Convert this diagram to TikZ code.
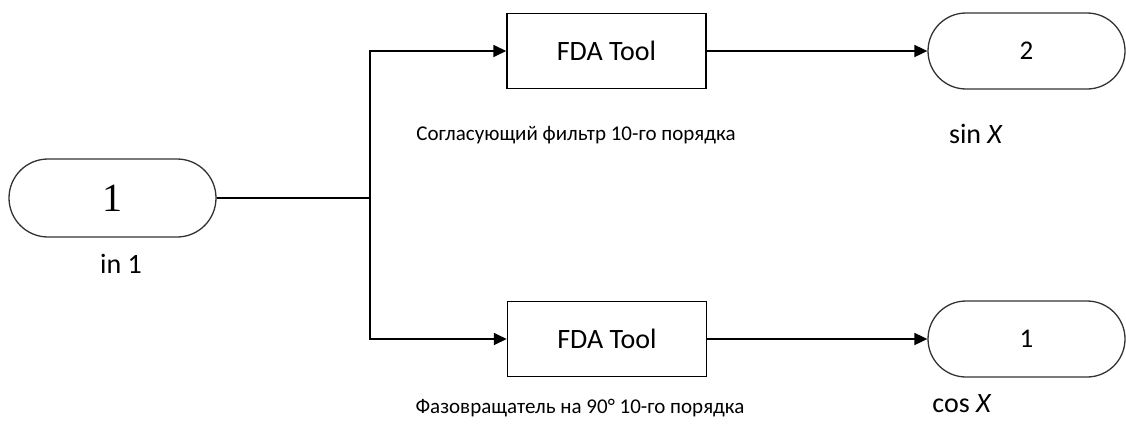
\documentclass[tikz,border=0pt]{standalone}
\usepackage{fontspec}
\setmainfont{Carlito}
\newfontfamily\numfont{Liberation Serif}
\usetikzlibrary{arrows.meta,shapes.misc}
\tikzset{
  term/.style={rounded rectangle, draw=black!80, line width=1.3pt, minimum width=197pt, minimum height=76pt, inner sep=0pt},
  fdabox/.style={rectangle, draw, line width=1.5pt, minimum width=199pt, minimum height=75pt, inner sep=0pt, font=\fontsize{28}{32}\selectfont},
  wire/.style={line width=1.8pt},
  sig/.style={wire, -{Triangle[length=13pt,width=12pt]}},
  lbl/.style={inner sep=0pt, font=\fontsize{28}{32}\selectfont},
  caption/.style={inner sep=0pt, font=\fontsize{21}{24}\selectfont}
}
\begin{document}
\begin{tikzpicture}[x=1pt, y=-1pt]
      \useasboundingbox (0,0) rectangle (1126,423);
      \node[term, minimum width=207pt, minimum height=78pt, font=\numfont\fontsize{40}{44}\selectfont] (In) at (112.5,198) {1};
      \node[lbl] (InL) at (121,264) {in 1};
      \coordinate (J) at (370,198);
      \node[fdabox] (F1) at (606.5,51) {FDA Tool};
      \node[fdabox] (F2) at (607,339) {FDA Tool};
      \node[term, font=\fontsize{27}{30}\selectfont] (Out2) at (1026.5,51) {2};
      \node[term, font=\fontsize{27}{30}\selectfont] (Out1) at (1026.5,339) {1};
      \node[caption] (F1L) at (576,135) {Согласующий фильтр 10-го порядка};
      \node[caption] (F2L) at (580,408) {Фазовращатель на 90° 10-го порядка};
      \node[lbl] (Out2L) at (976,134) {sin \textit{X}};
      \node[lbl] (Out1L) at (962,404) {cos \textit{X}};
      \draw[wire] (In) -- (J);
      \draw[sig] (J) |- (F1);
      \draw[sig] (J) |- (F2);
      \draw[sig] (F1) -- (Out2);
      \draw[sig] (F2) -- (Out1);
   \end{tikzpicture}
\end{document}
